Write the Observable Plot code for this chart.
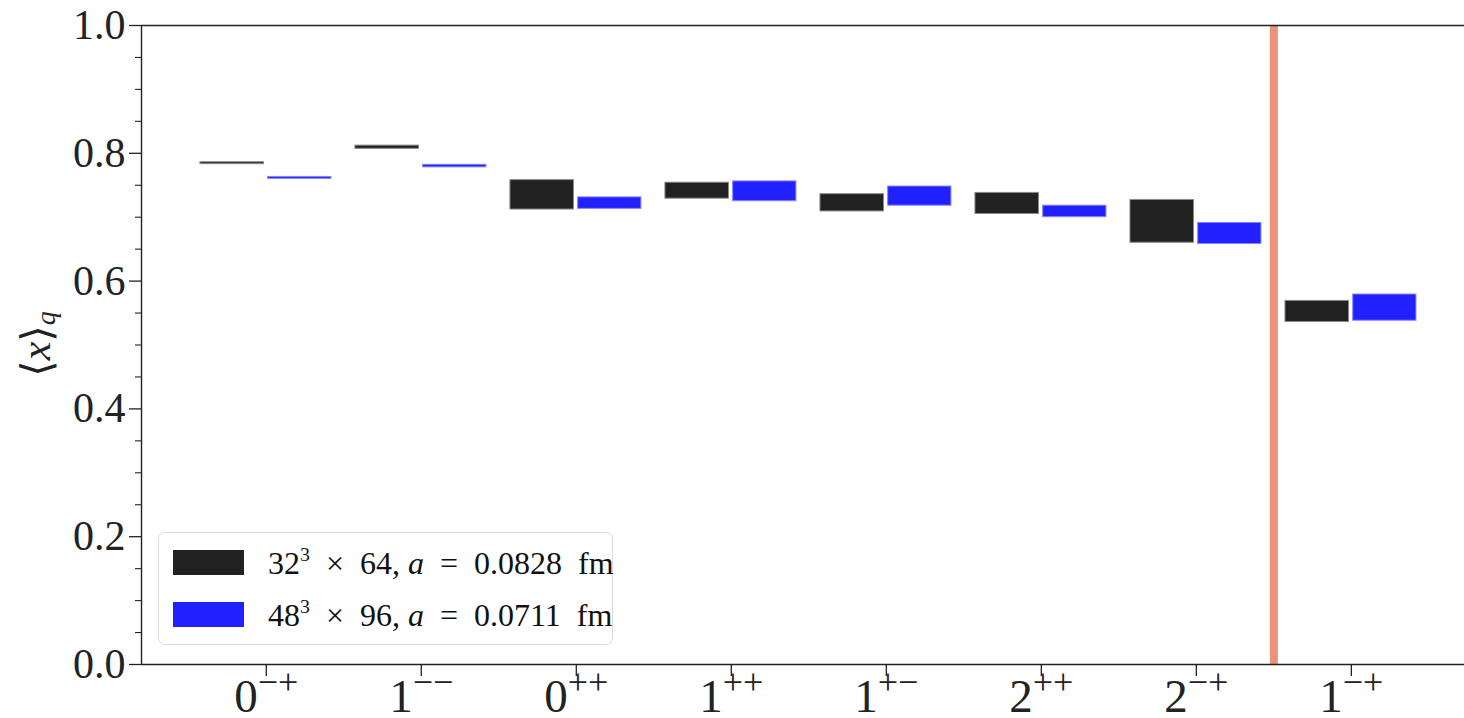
<!DOCTYPE html>
<html>
<head>
<meta charset="utf-8">
<script src="https://cdn.jsdelivr.net/npm/d3@7"></script>
<script src="https://cdn.jsdelivr.net/npm/@observablehq/plot@0.6"></script>
<style>
  body { margin: 0; background: #fff; }
  #fig { position: relative; width: 1464px; height: 718px; font-family: "Liberation Serif", "DejaVu Serif", serif; }
  #fig svg { display: block; font-family: "Liberation Serif", "DejaVu Serif", serif !important; }
  #fig svg text { font-family: "Liberation Serif", "DejaVu Serif", serif; }
  .legend { position: absolute; left: 158px; top: 532px; width: 455px; height: 113px;
            border: 1.5px solid #dcdcdc; border-radius: 7px; background: rgba(255,255,255,0.85); box-sizing: border-box; }
  .sw { position: absolute; left: 14px; width: 71px; height: 25px; box-sizing: border-box; }
  .lt { position: absolute; left: 109px; font-size: 32px; line-height: 1; white-space: nowrap; color: #111; }
  .lt sup { font-size: 0.62em; position: relative; top: -0.1em; vertical-align: top; line-height: 1; }
</style>
</head>
<body>
<div id="fig"></div>
<script>
// Meson states (J^PC) along the x axis
const states = ["0−+", "1−−", "0++", "1++", "1+−", "2++", "2−+", "1−+"];

// <x>_q bands (lower / upper edge) for the two lattice ensembles
const coarseLo = [0.783, 0.807, 0.712, 0.729, 0.709, 0.705, 0.660, 0.536];
const coarseHi = [0.786, 0.812, 0.758, 0.754, 0.736, 0.738, 0.727, 0.569];
const fineLo   = [0.760, 0.778, 0.713, 0.725, 0.718, 0.700, 0.658, 0.538];
const fineHi   = [0.763, 0.782, 0.731, 0.756, 0.748, 0.718, 0.691, 0.579];

// Ensemble descriptions for the legend
const latticeL  = ["32", "48"];
const latticeT  = ["64", "96"];
const spacingFm = ["0.0828", "0.0711"];

// Axis ticks
const yMajor = [0.0, 0.2, 0.4, 0.6, 0.8, 1.0];
const yMinor = [0.05, 0.10, 0.15, 0.25, 0.30, 0.35, 0.45, 0.50, 0.55, 0.65, 0.70, 0.75, 0.85, 0.90, 0.95];

// Separator between conventional and exotic states
const dividerAt = 6.5;

const serif = "Liberation Serif, DejaVu Serif, serif";
const coarseFill = "#212121", coarseEdge = "#8a8a8a";
const fineFill = "#2121ff", fineEdge = "#8585ff";
const ink = "#222";

const coarse = states.map((s, i) => ({i, lo: coarseLo[i], hi: coarseHi[i]}));
const fine = states.map((s, i) => ({i, lo: fineLo[i], hi: fineHi[i]}));

const xDomain = [-0.805, 7.73];

const chart = Plot.plot({
  width: 1464,
  height: 718,
  marginLeft: 141,
  marginRight: 0,
  marginTop: 25,
  marginBottom: 54,
  x: {type: "linear", domain: xDomain},
  y: {domain: [0, 1]},
  style: {color: ink, background: "white", overflow: "visible"},
  marks: [
    Plot.ruleX([dividerAt], {stroke: "#e9937b", strokeWidth: 8}),
    Plot.rect(coarse, {x1: d => d.i - 0.425, x2: d => d.i - 0.015, y1: "lo", y2: "hi",
      fill: coarseFill, stroke: coarseEdge, strokeWidth: 1}),
    Plot.rect(fine, {x1: d => d.i + 0.012, x2: d => d.i + 0.42, y1: "lo", y2: "hi",
      fill: fineFill, stroke: fineEdge, strokeWidth: 1}),
    // axes spines: bottom, top, left
    Plot.ruleY([0, 1], {stroke: ink, strokeWidth: 1.4}),
    Plot.ruleX([xDomain[0]], {stroke: ink, strokeWidth: 1.4}),
    Plot.axisY({ticks: yMajor, tickSize: 12, tickPadding: 4, fontSize: 42, fontFamily: serif, strokeWidth: 1.3,
      tickFormat: d3.format(".1f"), label: null}),
    Plot.axisY({ticks: yMinor, tickSize: 6, strokeWidth: 1.1, tickFormat: () => "", label: null}),
    Plot.axisX({ticks: states.map((s, i) => i), tickSize: 12, tickPadding: 2, fontSize: 47, fontFamily: serif, strokeWidth: 1.3,
      tickFormat: i => states[i], label: null})
  ]
});

chart.style.fontFamily = serif;
const svg = d3.select(chart);

// Split each J^PC label into the spin and a raised parity/charge-conjugation pair
svg.selectAll('g[aria-label="x-axis tick label"] text').each(function () {
  const t = d3.select(this);
  const s = t.text();
  t.text("");
  t.append("tspan").text(s[0]);
  t.append("tspan").attr("font-size", 36).attr("dy", -18).text(s.slice(1));
});

// y-axis title: <x>_q
const yl = svg.append("text")
  .attr("transform", "translate(36,344) rotate(-90)")
  .attr("text-anchor", "middle")
  .attr("dominant-baseline", "central")
  .attr("font-family", serif)
  .attr("font-size", 42)
  .attr("fill", ink);
yl.append("tspan").attr("font-family", "DejaVu Serif, serif").attr("font-size", 42).text("⟨");
yl.append("tspan").attr("font-style", "italic").text("x");
yl.append("tspan").attr("font-family", "DejaVu Serif, serif").attr("font-size", 42).text("⟩");
yl.append("tspan").attr("font-style", "italic").attr("font-size", 28).attr("dy", 9).text("q");

const fig = document.getElementById("fig");
fig.appendChild(chart);

// Legend
const legend = document.createElement("div");
legend.className = "legend";
[coarseFill, fineFill].forEach((c, k) => {
  const sw = document.createElement("div");
  sw.className = "sw";
  sw.style.top = (17 + 52 * k) + "px";
  sw.style.background = c;
  legend.appendChild(sw);
  const lt = document.createElement("div");
  lt.className = "lt";
  lt.style.top = (14 + 52 * k) + "px";
  lt.innerHTML = `${latticeL[k]}<sup>3</sup>&ensp;×&ensp;${latticeT[k]}, <i>a</i>&ensp;=&ensp;${spacingFm[k]}&nbsp; fm`;
  legend.appendChild(lt);
});
fig.appendChild(legend);
</script>
</body>
</html>
